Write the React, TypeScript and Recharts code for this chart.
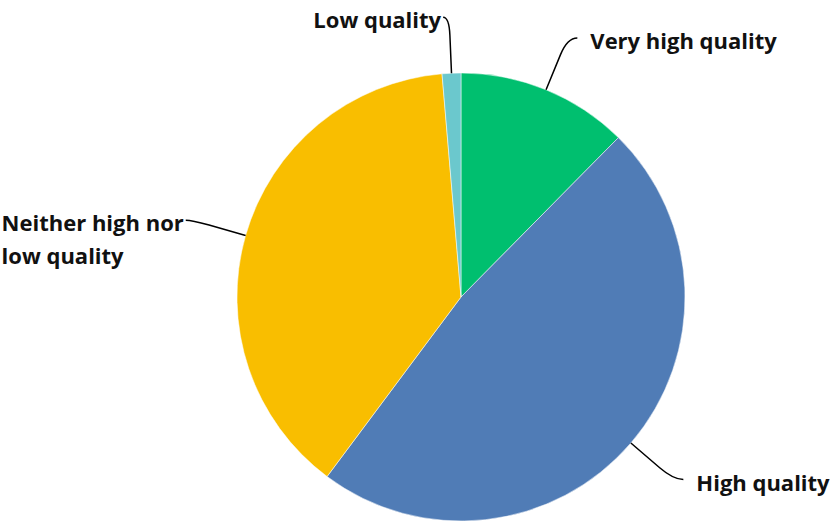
import React from 'react';
import { PieChart, Pie, Cell } from 'recharts';

const categories = ['Very high quality', 'High quality', 'Neither high nor low quality', 'Low quality'];
const labelLines = [['Very high quality'], ['High quality'], ['Neither high nor', 'low quality'], ['Low quality']];
const values = [12.4, 47.8, 38.45, 1.35];
const colors = ['#00BF6F', '#507CB6', '#F9BE00', '#6BC8CD'];

const data = categories.map((name, i) => ({ name, value: values[i] }));

const RAD = Math.PI / 180;
const FONT_SIZE = 22;
const FONT = '"Open Sans", sans-serif';

let canvasCtx: CanvasRenderingContext2D | null = null;
const measure = (s: string) => {
  if (typeof document === 'undefined') return s.length * FONT_SIZE * 0.55;
  if (!canvasCtx) canvasCtx = document.createElement('canvas').getContext('2d');
  if (!canvasCtx) return s.length * FONT_SIZE * 0.55;
  canvasCtx.font = `700 ${FONT_SIZE}px "Open Sans"`;
  return canvasCtx.measureText(s).width;
};

const renderLabel = (props: any) => {
  const { cx, cy, midAngle, outerRadius, index } = props;
  const cos = Math.cos(-midAngle * RAD);
  const sin = Math.sin(-midAngle * RAD);
  const p0 = { x: cx + outerRadius * cos, y: cy + outerRadius * sin };
  const pa = { x: cx + (outerRadius + 38) * cos, y: cy + (outerRadius + 38) * sin };
  const pb = { x: cx + (outerRadius + 56) * cos, y: cy + (outerRadius + 56) * sin };
  const right = cos >= 0;
  const ext = right ? 10 : -6;
  const p2 = { x: pb.x + ext, y: pb.y };
  const lines = labelLines[index];
  const maxW = Math.max(...lines.map(measure));
  const tx = right ? p2.x + 13 : p2.x - 2 - maxW;
  const baseY = p2.y + 11;
  return (
    <g>
      <path
        d={`M${p0.x},${p0.y} L${pa.x},${pa.y} Q${pb.x},${pb.y} ${p2.x},${p2.y}`}
        stroke="#000"
        strokeWidth={1.5}
        fill="none"
      />
      <text
        x={tx}
        y={baseY}
        textAnchor="start"
        fontFamily={FONT}
        fontWeight={700}
        fontSize={FONT_SIZE}
        fill="#111"
      >
        {lines.map((l, i) => (
          <tspan key={i} x={tx} dy={i === 0 ? 0 : 33}>
            {l}
          </tspan>
        ))}
      </text>
    </g>
  );
};

export default function App() {
  return (
    <div style={{ position: 'absolute', left: 0, top: 0, width: 831, height: 522, background: '#fff' }}>
      <PieChart width={831} height={522} margin={{ top: 0, right: 0, bottom: 0, left: 0 }}>
        <Pie
          data={data}
          dataKey="value"
          nameKey="name"
          cx={461}
          cy={297}
          outerRadius={224}
          startAngle={90}
          endAngle={-270}
          stroke="#fff"
          strokeWidth={0.5}
          label={renderLabel}
          labelLine={false}
          isAnimationActive={false}
        >
          {data.map((d, i) => (
            <Cell key={d.name} fill={colors[i]} />
          ))}
        </Pie>
      </PieChart>
    </div>
  );
}
